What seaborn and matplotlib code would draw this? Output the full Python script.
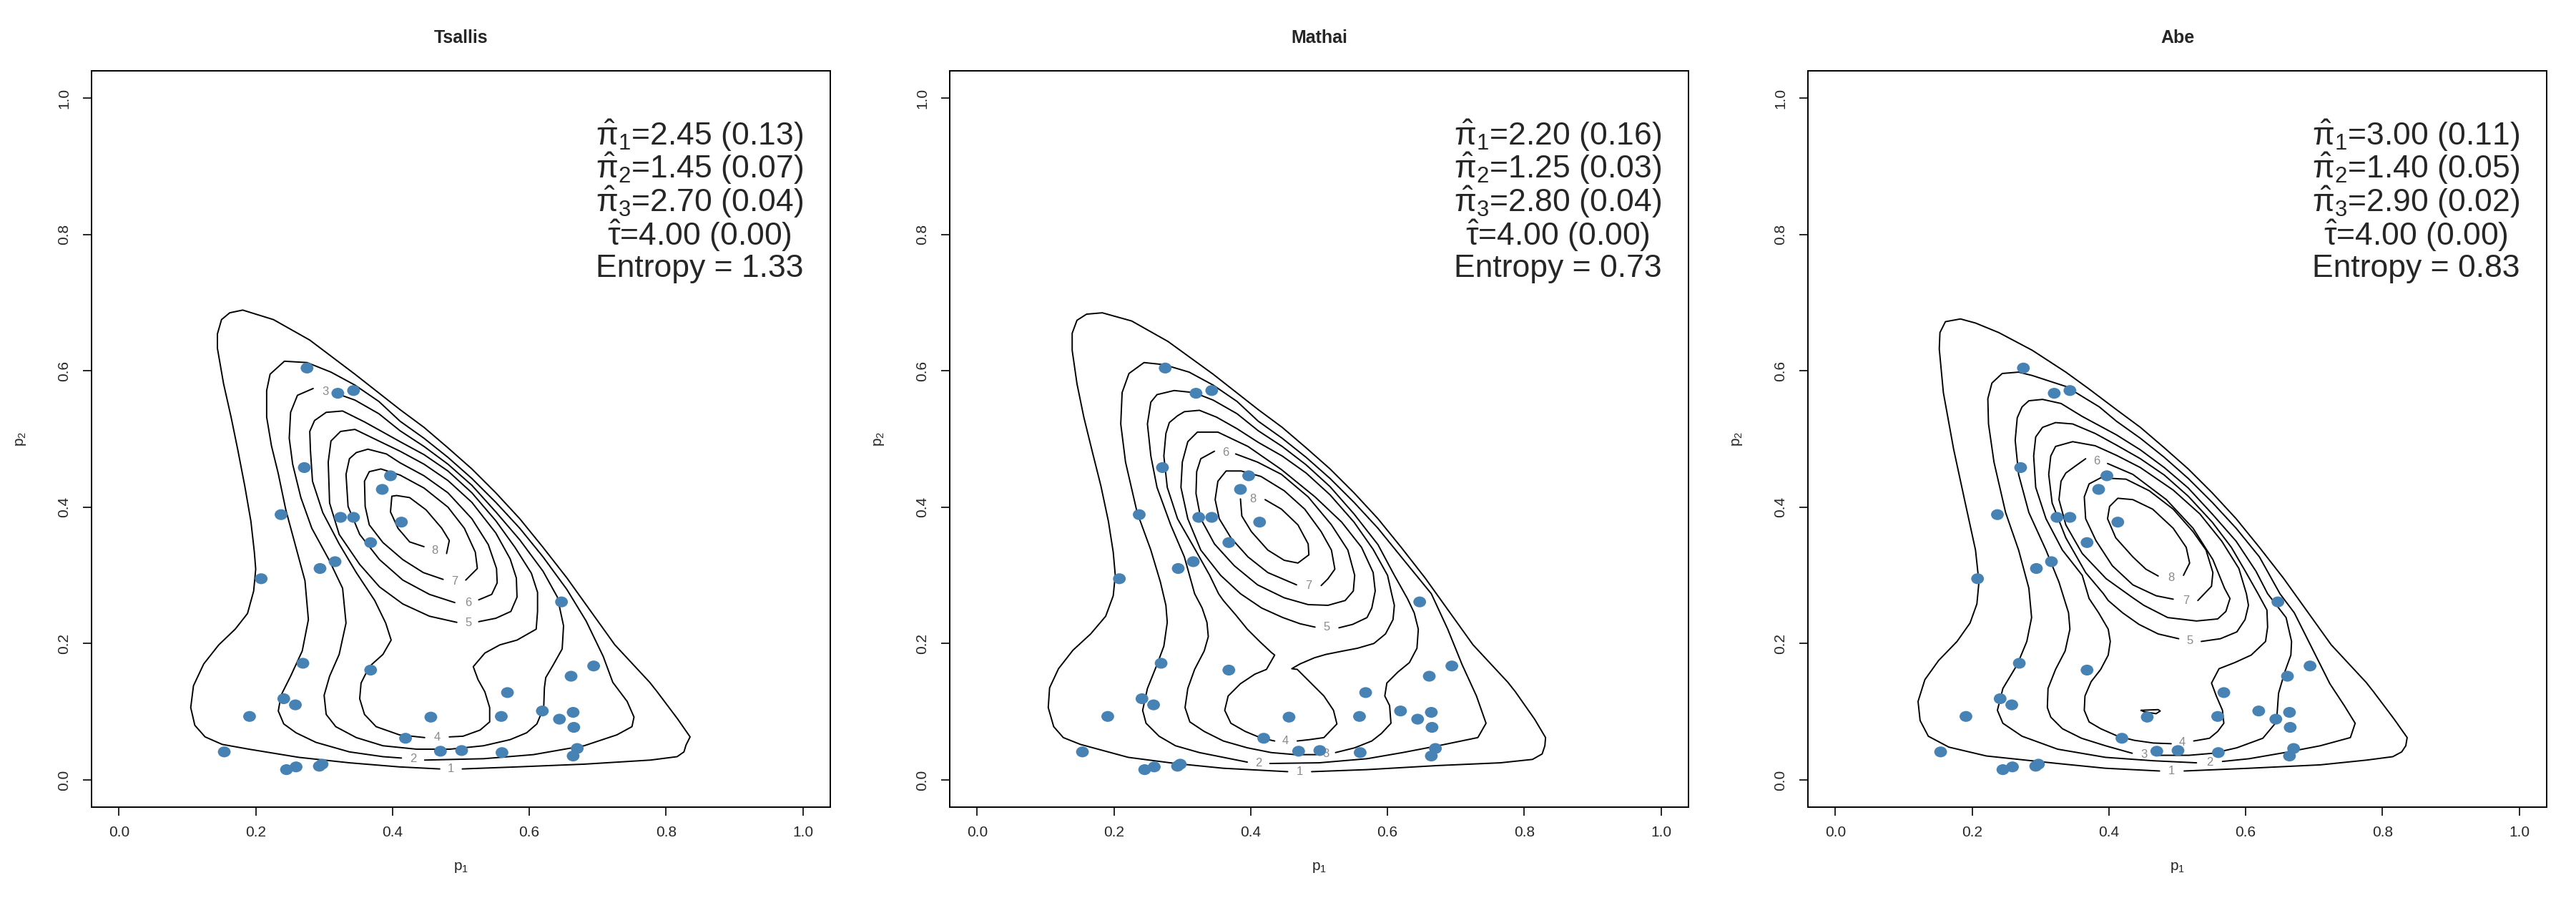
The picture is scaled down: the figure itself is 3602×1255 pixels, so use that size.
import numpy as np
import pandas as pd
import seaborn as sns
import matplotlib.pyplot as plt
from matplotlib.path import Path

sns.set_style('ticks')
plt.rcParams['font.family'] = ['Liberation Sans', 'DejaVu Sans']
plt.rcParams['mathtext.fontset'] = 'custom'
plt.rcParams['mathtext.rm'] = 'Liberation Sans'
plt.rcParams['mathtext.it'] = 'Liberation Sans'

# observed proportions (same sample in every panel)
p1 = [0.275, 0.320, 0.343, 0.271, 0.397, 0.385, 0.237, 0.324, 0.343, 0.413,
      0.368, 0.316, 0.294, 0.208, 0.647, 0.269, 0.368, 0.694, 0.661, 0.568,
      0.241, 0.258, 0.191, 0.456, 0.559, 0.619, 0.644, 0.664, 0.665, 0.419,
      0.470, 0.501, 0.560, 0.670, 0.664, 0.154, 0.245, 0.259, 0.293, 0.297]
p2 = [0.604, 0.567, 0.571, 0.458, 0.446, 0.426, 0.389, 0.385, 0.385, 0.378,
      0.348, 0.320, 0.310, 0.295, 0.261, 0.171, 0.161, 0.167, 0.152, 0.128,
      0.119, 0.110, 0.093, 0.092, 0.093, 0.101, 0.089, 0.099, 0.077, 0.061,
      0.042, 0.043, 0.040, 0.046, 0.035, 0.041, 0.015, 0.019, 0.020, 0.023]

models = ['Tsallis', 'Mathai', 'Abe']
pi1 = ['2.45 (0.13)', '2.20 (0.16)', '3.00 (0.11)']
pi2 = ['1.45 (0.07)', '1.25 (0.03)', '1.40 (0.05)']
pi3 = ['2.70 (0.04)', '2.80 (0.04)', '2.90 (0.02)']
tau = ['4.00 (0.00)', '4.00 (0.00)', '4.00 (0.00)']
entropy = ['1.33', '0.73', '0.83']

# fitted density contours, levels 1..8 as (p1, p2)
ts_c1 = [(0.502, 0.016), (0.582, 0.019), (0.680, 0.023), (0.777, 0.029), (0.816, 0.034), (0.826, 0.041),
         (0.829, 0.051), (0.835, 0.063), (0.817, 0.089), (0.787, 0.129), (0.776, 0.143), (0.725, 0.198),
         (0.690, 0.247), (0.655, 0.296), (0.620, 0.341), (0.586, 0.383), (0.551, 0.421), (0.516, 0.456),
         (0.481, 0.487), (0.446, 0.517), (0.411, 0.543), (0.345, 0.595), (0.279, 0.645), (0.226, 0.675),
         (0.181, 0.689), (0.162, 0.685), (0.150, 0.675), (0.144, 0.654), (0.144, 0.633), (0.153, 0.581),
         (0.164, 0.532), (0.174, 0.483), (0.184, 0.431), (0.193, 0.379), (0.198, 0.334), (0.200, 0.309),
         (0.197, 0.277), (0.188, 0.244), (0.170, 0.221), (0.146, 0.198), (0.124, 0.170), (0.109, 0.138),
         (0.105, 0.106), (0.111, 0.080), (0.126, 0.063), (0.151, 0.052), (0.190, 0.045), (0.263, 0.033),
         (0.337, 0.025), (0.410, 0.019), (0.469, 0.016)]
ts_c2 = [(0.447, 0.029), (0.533, 0.031), (0.606, 0.037), (0.680, 0.050), (0.728, 0.066), (0.750, 0.078),
         (0.753, 0.092), (0.743, 0.115), (0.722, 0.143), (0.708, 0.181), (0.683, 0.233), (0.655, 0.279),
         (0.620, 0.327), (0.586, 0.369), (0.551, 0.407), (0.516, 0.442), (0.481, 0.473), (0.446, 0.501),
         (0.411, 0.526), (0.380, 0.555), (0.345, 0.579), (0.310, 0.598), (0.275, 0.612), (0.242, 0.614),
         (0.221, 0.595), (0.216, 0.571), (0.216, 0.532), (0.223, 0.490), (0.233, 0.449), (0.244, 0.396),
         (0.258, 0.344), (0.272, 0.292), (0.277, 0.235), (0.268, 0.189), (0.251, 0.152), (0.237, 0.124),
         (0.233, 0.101), (0.241, 0.082), (0.259, 0.069), (0.288, 0.055), (0.337, 0.041), (0.386, 0.034),
         (0.413, 0.032)]
ts_c3 = [(0.317, 0.567), (0.345, 0.557), (0.380, 0.537), (0.411, 0.512), (0.446, 0.489), (0.481, 0.463),
         (0.516, 0.432), (0.551, 0.393), (0.586, 0.352), (0.620, 0.306), (0.641, 0.268), (0.650, 0.226),
         (0.648, 0.192), (0.634, 0.167), (0.624, 0.150), (0.622, 0.135), (0.621, 0.106), (0.611, 0.082),
         (0.596, 0.069), (0.572, 0.059), (0.533, 0.050), (0.484, 0.045), (0.435, 0.045), (0.386, 0.050),
         (0.347, 0.062), (0.317, 0.078), (0.303, 0.096), (0.300, 0.124), (0.308, 0.152), (0.322, 0.184),
         (0.332, 0.230), (0.327, 0.281), (0.307, 0.323), (0.282, 0.369), (0.266, 0.414), (0.254, 0.463),
         (0.249, 0.501), (0.251, 0.539), (0.261, 0.564), (0.284, 0.574)]
ts_c4 = [(0.483, 0.063), (0.503, 0.064), (0.528, 0.073), (0.542, 0.085), (0.542, 0.106), (0.535, 0.129),
         (0.525, 0.147), (0.518, 0.166), (0.535, 0.186), (0.557, 0.198), (0.582, 0.205), (0.610, 0.221),
         (0.612, 0.247), (0.612, 0.275), (0.603, 0.303), (0.579, 0.341), (0.551, 0.380), (0.516, 0.421),
         (0.481, 0.453), (0.446, 0.477), (0.411, 0.496), (0.386, 0.510), (0.359, 0.525), (0.327, 0.541),
         (0.303, 0.539), (0.286, 0.527), (0.279, 0.511), (0.280, 0.483), (0.283, 0.438), (0.298, 0.392),
         (0.322, 0.346), (0.347, 0.304), (0.374, 0.263), (0.390, 0.230), (0.398, 0.205), (0.386, 0.184),
         (0.366, 0.166), (0.354, 0.142), (0.352, 0.119), (0.359, 0.096), (0.376, 0.078), (0.410, 0.066),
         (0.447, 0.062)]
ts_c5 = [(0.494, 0.231), (0.454, 0.240), (0.415, 0.258), (0.381, 0.283), (0.352, 0.316), (0.322, 0.360),
         (0.308, 0.406), (0.306, 0.466), (0.310, 0.497), (0.324, 0.511), (0.345, 0.514), (0.380, 0.497),
         (0.411, 0.482), (0.446, 0.463), (0.481, 0.439), (0.516, 0.407), (0.551, 0.362), (0.572, 0.324),
         (0.581, 0.296), (0.582, 0.268), (0.573, 0.247), (0.551, 0.237), (0.526, 0.232)]
ts_c6 = [(0.491, 0.260), (0.454, 0.272), (0.415, 0.293), (0.381, 0.323), (0.352, 0.360), (0.335, 0.401),
         (0.332, 0.448), (0.337, 0.471), (0.347, 0.480), (0.364, 0.485), (0.391, 0.478), (0.411, 0.465),
         (0.446, 0.446), (0.481, 0.421), (0.516, 0.383), (0.540, 0.345), (0.552, 0.310), (0.553, 0.289),
         (0.545, 0.272), (0.526, 0.264)]
ts_c7 = [(0.474, 0.294), (0.445, 0.304), (0.415, 0.323), (0.386, 0.348), (0.366, 0.374), (0.360, 0.401),
         (0.359, 0.438), (0.366, 0.452), (0.383, 0.456), (0.411, 0.447), (0.446, 0.428), (0.481, 0.400),
         (0.505, 0.369), (0.521, 0.334), (0.524, 0.310), (0.507, 0.293)]
ts_c8 = [(0.446, 0.342), (0.425, 0.349), (0.408, 0.369), (0.397, 0.393), (0.399, 0.416), (0.406, 0.417),
         (0.425, 0.414), (0.449, 0.396), (0.472, 0.369), (0.483, 0.351), (0.479, 0.332)]

ma_c1 = [(0.489, 0.012), (0.570, 0.015), (0.674, 0.021), (0.765, 0.025), (0.812, 0.030), (0.826, 0.038),
         (0.830, 0.050), (0.831, 0.062), (0.815, 0.089), (0.787, 0.129), (0.776, 0.143), (0.725, 0.198),
         (0.690, 0.247), (0.655, 0.296), (0.620, 0.341), (0.586, 0.383), (0.551, 0.421), (0.516, 0.456),
         (0.481, 0.487), (0.446, 0.517), (0.411, 0.543), (0.345, 0.595), (0.279, 0.643), (0.226, 0.673),
         (0.183, 0.685), (0.160, 0.683), (0.146, 0.674), (0.139, 0.655), (0.139, 0.630), (0.146, 0.581),
         (0.156, 0.532), (0.168, 0.483), (0.181, 0.431), (0.192, 0.379), (0.199, 0.334), (0.202, 0.300),
         (0.199, 0.270), (0.188, 0.240), (0.166, 0.214), (0.140, 0.190), (0.119, 0.163), (0.106, 0.135),
         (0.104, 0.106), (0.112, 0.078), (0.126, 0.062), (0.151, 0.052), (0.221, 0.033), (0.290, 0.024),
         (0.360, 0.017), (0.454, 0.012)]
ma_c2 = [(0.428, 0.024), (0.500, 0.025), (0.570, 0.031), (0.622, 0.040), (0.674, 0.050), (0.732, 0.062),
         (0.744, 0.083), (0.730, 0.123), (0.709, 0.169), (0.688, 0.221), (0.664, 0.273), (0.620, 0.327),
         (0.586, 0.369), (0.551, 0.407), (0.516, 0.442), (0.481, 0.473), (0.446, 0.501), (0.411, 0.526),
         (0.380, 0.555), (0.345, 0.579), (0.310, 0.598), (0.273, 0.609), (0.244, 0.612), (0.222, 0.596),
         (0.212, 0.568), (0.210, 0.522), (0.217, 0.466), (0.234, 0.392), (0.254, 0.337), (0.268, 0.290),
         (0.276, 0.256), (0.278, 0.231), (0.273, 0.196), (0.263, 0.169), (0.249, 0.134), (0.242, 0.102),
         (0.247, 0.083), (0.266, 0.064), (0.290, 0.050), (0.325, 0.040), (0.360, 0.033), (0.395, 0.026)]
ma_c3 = [(0.524, 0.040), (0.552, 0.047), (0.577, 0.057), (0.591, 0.068), (0.605, 0.083), (0.603, 0.109),
         (0.596, 0.123), (0.599, 0.142), (0.615, 0.158), (0.632, 0.172), (0.643, 0.193), (0.645, 0.221),
         (0.639, 0.245), (0.629, 0.266), (0.610, 0.300), (0.586, 0.345), (0.551, 0.390), (0.516, 0.430),
         (0.481, 0.462), (0.446, 0.489), (0.411, 0.512), (0.380, 0.537), (0.345, 0.557), (0.317, 0.568),
         (0.288, 0.571), (0.263, 0.565), (0.254, 0.554), (0.249, 0.522), (0.254, 0.475), (0.263, 0.429),
         (0.283, 0.374), (0.303, 0.327), (0.318, 0.273), (0.329, 0.252), (0.336, 0.231), (0.338, 0.210),
         (0.332, 0.189), (0.318, 0.162), (0.308, 0.134), (0.304, 0.106), (0.311, 0.085), (0.332, 0.071),
         (0.360, 0.057), (0.395, 0.047), (0.430, 0.040), (0.465, 0.037), (0.496, 0.037)]
ma_c4 = [(0.468, 0.057), (0.486, 0.059), (0.507, 0.062), (0.526, 0.082), (0.521, 0.102), (0.507, 0.123),
         (0.493, 0.137), (0.479, 0.151), (0.468, 0.162), (0.460, 0.163), (0.472, 0.170), (0.493, 0.179),
         (0.510, 0.184), (0.535, 0.189), (0.556, 0.193), (0.580, 0.200), (0.597, 0.214), (0.608, 0.235),
         (0.610, 0.256), (0.606, 0.273), (0.600, 0.300), (0.579, 0.338), (0.551, 0.378), (0.516, 0.418),
         (0.481, 0.450), (0.446, 0.475), (0.411, 0.495), (0.380, 0.515), (0.350, 0.532), (0.325, 0.542),
         (0.303, 0.540), (0.293, 0.534), (0.281, 0.524), (0.276, 0.508), (0.273, 0.475), (0.278, 0.429),
         (0.293, 0.383), (0.317, 0.341), (0.340, 0.300), (0.353, 0.273), (0.360, 0.263), (0.378, 0.242),
         (0.395, 0.221), (0.413, 0.203), (0.430, 0.187), (0.435, 0.183), (0.423, 0.162), (0.406, 0.155),
         (0.385, 0.141), (0.367, 0.123), (0.362, 0.102), (0.371, 0.083), (0.392, 0.071), (0.416, 0.061),
         (0.435, 0.057)]
ma_c5 = [(0.529, 0.223), (0.549, 0.228), (0.570, 0.238), (0.577, 0.252), (0.582, 0.277), (0.579, 0.304),
         (0.562, 0.341), (0.533, 0.378), (0.494, 0.415), (0.445, 0.455), (0.396, 0.489), (0.352, 0.510),
         (0.322, 0.510), (0.308, 0.496), (0.300, 0.466), (0.298, 0.429), (0.308, 0.383), (0.327, 0.337),
         (0.356, 0.300), (0.385, 0.273), (0.416, 0.252), (0.447, 0.238), (0.472, 0.229), (0.494, 0.224)]
ma_c6 = [(0.378, 0.478), (0.410, 0.466), (0.445, 0.448), (0.484, 0.415), (0.518, 0.374), (0.542, 0.337),
         (0.552, 0.300), (0.550, 0.277), (0.538, 0.263), (0.513, 0.256), (0.484, 0.257), (0.449, 0.267),
         (0.410, 0.286), (0.376, 0.314), (0.347, 0.346), (0.327, 0.383), (0.320, 0.420), (0.321, 0.452),
         (0.327, 0.471), (0.347, 0.482)]
ma_c7 = [(0.503, 0.285), (0.513, 0.295), (0.523, 0.309), (0.518, 0.337), (0.503, 0.364), (0.479, 0.397),
         (0.449, 0.424), (0.415, 0.445), (0.386, 0.453), (0.364, 0.453), (0.352, 0.438), (0.348, 0.411),
         (0.354, 0.383), (0.371, 0.355), (0.396, 0.327), (0.425, 0.304), (0.467, 0.286)]
ma_c8 = [(0.421, 0.411), (0.445, 0.397), (0.469, 0.374), (0.484, 0.346), (0.485, 0.330), (0.469, 0.318),
         (0.449, 0.322), (0.425, 0.337), (0.401, 0.364), (0.387, 0.387), (0.385, 0.412)]

ab_c1 = [(0.510, 0.013), (0.605, 0.017), (0.709, 0.022), (0.777, 0.029), (0.815, 0.034), (0.828, 0.041),
         (0.834, 0.050), (0.836, 0.062), (0.817, 0.089), (0.787, 0.129), (0.776, 0.143), (0.725, 0.198),
         (0.690, 0.247), (0.655, 0.296), (0.620, 0.341), (0.586, 0.383), (0.551, 0.421), (0.516, 0.456),
         (0.481, 0.487), (0.446, 0.517), (0.411, 0.543), (0.370, 0.574), (0.337, 0.598), (0.288, 0.630),
         (0.239, 0.656), (0.205, 0.670), (0.183, 0.676), (0.161, 0.672), (0.153, 0.656), (0.152, 0.632),
         (0.158, 0.568), (0.173, 0.485), (0.190, 0.406), (0.205, 0.337), (0.210, 0.290), (0.207, 0.258),
         (0.197, 0.230), (0.178, 0.203), (0.151, 0.175), (0.131, 0.147), (0.121, 0.115), (0.124, 0.087),
         (0.136, 0.064), (0.166, 0.048), (0.221, 0.035), (0.325, 0.024), (0.395, 0.017), (0.474, 0.013)]
ab_c2 = [(0.566, 0.027), (0.605, 0.031), (0.657, 0.040), (0.709, 0.050), (0.753, 0.062), (0.760, 0.083),
         (0.744, 0.109), (0.723, 0.141), (0.706, 0.175), (0.692, 0.203), (0.671, 0.245), (0.650, 0.273),
         (0.620, 0.327), (0.586, 0.369), (0.551, 0.407), (0.516, 0.442), (0.481, 0.473), (0.446, 0.501),
         (0.411, 0.526), (0.386, 0.547), (0.337, 0.577), (0.288, 0.593), (0.268, 0.598), (0.244, 0.596),
         (0.229, 0.582), (0.223, 0.559), (0.224, 0.522), (0.232, 0.466), (0.249, 0.392), (0.268, 0.337),
         (0.283, 0.281), (0.287, 0.238), (0.280, 0.203), (0.266, 0.169), (0.245, 0.134), (0.237, 0.102),
         (0.245, 0.083), (0.273, 0.064), (0.325, 0.045), (0.395, 0.033), (0.465, 0.028), (0.528, 0.025)]
ab_c3 = [(0.468, 0.036), (0.517, 0.036), (0.552, 0.039), (0.587, 0.047), (0.625, 0.061), (0.645, 0.085),
         (0.648, 0.127), (0.657, 0.158), (0.666, 0.183), (0.667, 0.203), (0.659, 0.238), (0.632, 0.273),
         (0.615, 0.306), (0.586, 0.350), (0.551, 0.390), (0.516, 0.428), (0.481, 0.458), (0.446, 0.484),
         (0.411, 0.506), (0.361, 0.533), (0.330, 0.552), (0.303, 0.558), (0.283, 0.556), (0.273, 0.547),
         (0.266, 0.531), (0.263, 0.498), (0.268, 0.448), (0.283, 0.392), (0.308, 0.337), (0.327, 0.290),
         (0.341, 0.245), (0.343, 0.221), (0.336, 0.189), (0.322, 0.162), (0.311, 0.134), (0.310, 0.106),
         (0.315, 0.092), (0.332, 0.075), (0.360, 0.061), (0.395, 0.050), (0.434, 0.039)]
ab_c4 = [(0.524, 0.057), (0.547, 0.061), (0.559, 0.071), (0.568, 0.083), (0.566, 0.102), (0.557, 0.123),
         (0.550, 0.142), (0.561, 0.163), (0.584, 0.172), (0.608, 0.183), (0.629, 0.203), (0.632, 0.224),
         (0.631, 0.249), (0.618, 0.273), (0.600, 0.305), (0.579, 0.341), (0.551, 0.378), (0.516, 0.416),
         (0.481, 0.447), (0.446, 0.471), (0.411, 0.491), (0.380, 0.508), (0.347, 0.522), (0.322, 0.524),
         (0.303, 0.517), (0.293, 0.503), (0.290, 0.475), (0.293, 0.429), (0.308, 0.383), (0.332, 0.337),
         (0.361, 0.300), (0.371, 0.266), (0.385, 0.245), (0.399, 0.221), (0.402, 0.203), (0.399, 0.183),
         (0.388, 0.162), (0.374, 0.144), (0.365, 0.123), (0.364, 0.102), (0.371, 0.085), (0.388, 0.075),
         (0.413, 0.064), (0.437, 0.058), (0.465, 0.054), (0.491, 0.053)]
ab_c4b = [(0.447, 0.102), (0.472, 0.103), (0.475, 0.101), (0.469, 0.097), (0.451, 0.100), (0.447, 0.102)]
ab_c5 = [(0.535, 0.203), (0.563, 0.207), (0.587, 0.217), (0.599, 0.235), (0.604, 0.256), (0.601, 0.273),
         (0.590, 0.310), (0.565, 0.350), (0.533, 0.390), (0.494, 0.425), (0.446, 0.458), (0.411, 0.476),
         (0.380, 0.490), (0.347, 0.496), (0.322, 0.489), (0.315, 0.475), (0.312, 0.448), (0.317, 0.406),
         (0.337, 0.355), (0.366, 0.304), (0.392, 0.273), (0.399, 0.263), (0.420, 0.245), (0.444, 0.228),
         (0.472, 0.214), (0.502, 0.207)]
ab_c6 = [(0.398, 0.464), (0.435, 0.448), (0.484, 0.411), (0.523, 0.369), (0.552, 0.323), (0.569, 0.281),
         (0.577, 0.266), (0.571, 0.247), (0.559, 0.236), (0.528, 0.233), (0.486, 0.238), (0.451, 0.256),
         (0.435, 0.267), (0.396, 0.295), (0.361, 0.332), (0.337, 0.374), (0.327, 0.411), (0.330, 0.438),
         (0.337, 0.450), (0.352, 0.461), (0.366, 0.471)]
ab_c7 = [(0.530, 0.263), (0.550, 0.284), (0.552, 0.304), (0.542, 0.337), (0.523, 0.364), (0.494, 0.397),
         (0.459, 0.424), (0.425, 0.441), (0.388, 0.443), (0.371, 0.434), (0.364, 0.415), (0.366, 0.383),
         (0.381, 0.351), (0.405, 0.314), (0.435, 0.286), (0.469, 0.270), (0.494, 0.265)]
ab_c8 = [(0.509, 0.300), (0.518, 0.318), (0.513, 0.341), (0.494, 0.369), (0.464, 0.397), (0.435, 0.411),
         (0.413, 0.413), (0.401, 0.401), (0.398, 0.383), (0.410, 0.355), (0.435, 0.327), (0.454, 0.309),
         (0.472, 0.299)]

contours = [
    [ts_c1, ts_c2, ts_c3, ts_c4, ts_c5, ts_c6, ts_c7, ts_c8],
    [ma_c1, ma_c2, ma_c3, ma_c4, ma_c5, ma_c6, ma_c7, ma_c8],
    [ab_c1, ab_c2, ab_c3, ab_c4, ab_c4b, ab_c5, ab_c6, ab_c7, ab_c8],
]

# contour level labels and where they sit
level_names = ['1', '2', '3', '4', '5', '6', '7', '8']
ts_lab = [(0.485, 0.016), (0.430, 0.031), (0.302, 0.569), (0.465, 0.062),
          (0.511, 0.230), (0.511, 0.260), (0.491, 0.291), (0.462, 0.336)]
ma_lab = [(0.472, 0.012), (0.411, 0.025), (0.510, 0.038), (0.451, 0.057),
          (0.511, 0.224), (0.363, 0.480), (0.485, 0.285), (0.403, 0.412)]
ab_lab = [(0.492, 0.013), (0.547, 0.026), (0.451, 0.037), (0.507, 0.055),
          (0.518, 0.204), (0.382, 0.467), (0.513, 0.263), (0.491, 0.296)]
labels_at = [ts_lab, ma_lab, ab_lab]

df = pd.DataFrame({'p1': p1, 'p2': p2})

# R draws the filled dots slightly wider than tall here
circ = Path.unit_circle()
dot = Path(circ.vertices * np.array([1.0, 0.85]), circ.codes)

fig = plt.figure(figsize=(36.02, 12.55), dpi=100)
lefts = [128 / 3602, 1328 / 3602, 2528 / 3602]
ticks = [0, 0.2, 0.4, 0.6, 0.8, 1.0]
tick_txt = ['0.0', '0.2', '0.4', '0.6', '0.8', '1.0']

for i, name in enumerate(models):
    ax = fig.add_axes([lefts[i], 0.1012, 0.2868, 0.820])

    rows = []
    for k, line in enumerate(contours[i]):
        for x, y in line:
            rows.append((k, x, y))
    cdf = pd.DataFrame(rows, columns=['line', 'x', 'y'])
    sns.lineplot(data=cdf, x='x', y='y', units='line', estimator=None, sort=False,
                 color='black', linewidth=1.4, ax=ax, legend=False)

    for lab, (x, y) in zip(level_names, labels_at[i]):
        ax.text(x, y, lab, ha='center', va='center', fontsize=12, color='#8a8a8a')

    sns.scatterplot(data=df, x='p1', y='p2', color='steelblue', s=165, marker=dot,
                    edgecolor='none', ax=ax, zorder=3)

    ax.set_xlim(-0.04, 1.04)
    ax.set_ylim(-0.04, 1.04)
    ax.set_xticks(ticks)
    ax.set_yticks(ticks)
    ax.set_xticklabels(tick_txt)
    ax.set_yticklabels(tick_txt, rotation=90, va='center')
    ax.tick_params(labelsize=15, length=8.6, width=1.4)
    ax.tick_params(axis='x', pad=10)
    ax.tick_params(axis='y', pad=12)
    ax.set_xlabel(r'$\mathregular{p_1}$', fontsize=15, labelpad=22)
    ax.set_ylabel(r'$\mathregular{p_2}$', fontsize=15, labelpad=30)
    for sp in ax.spines.values():
        sp.set_linewidth(1.4)
        sp.set_color('black')
    ax.set_title(name, fontsize=18, fontweight='bold', pad=28)

    lines = [r'$\hat{\pi}_1$=' + pi1[i],
             r'$\hat{\pi}_2$=' + pi2[i],
             r'$\hat{\pi}_3$=' + pi3[i],
             r'$\hat{\tau}$=' + tau[i],
             'Entropy = ' + entropy[i]]
    for k, t in enumerate(lines):
        ax.text(0.823, 0.9124 - 0.0454 * k, t, transform=ax.transAxes,
                ha='center', va='center', fontsize=32)

fig.savefig('out.png', dpi=100)
